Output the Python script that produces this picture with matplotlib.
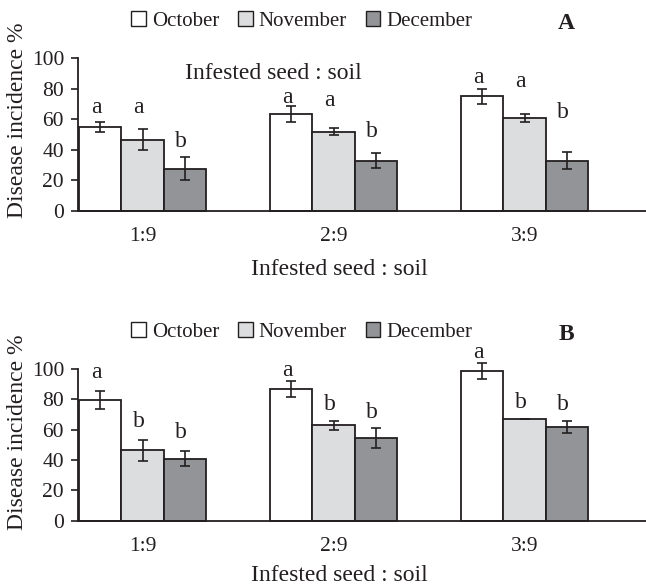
import matplotlib
matplotlib.use("Agg")
import matplotlib.pyplot as plt
from matplotlib.patches import Patch
from matplotlib.transforms import ScaledTranslation, blended_transform_factory
import numpy as np

plt.rcParams['font.family'] = ['Liberation Serif', 'DejaVu Serif']

categories = ["1:9", "2:9", "3:9"]
months = ["October", "November", "December"]

# Panel A
a_vals = {"October": [55, 63.5, 75], "November": [46.7, 52, 60.7], "December": [27.7, 33, 33]}
a_errs = {"October": [3, 5.5, 5], "November": [7, 2.5, 2.5], "December": [7.5, 5, 5.5]}
a_letters = {"October": ["a", "a", "a"], "November": ["a", "a", "a"], "December": ["b", "b", "b"]}
a_letter_y = {"October": [64.2, 70.9, 83.6], "November": [64.2, 68.8, 81.4], "December": [42.1, 48.7, 60.7]}

# Panel B
b_vals = {"October": [79.6, 86.8, 98.7], "November": [46.4, 63, 67.3], "December": [41, 54.7, 62]}
b_errs = {"October": [6, 5, 5], "November": [7, 3, 0], "December": [5, 6.5, 4]}
b_letters = {"October": ["a", "a", "a"], "November": ["b", "b", "b"], "December": ["b", "b", "b"]}
b_letter_y = {"October": [93.9, 95.4, 107], "November": [62, 73, 74.1], "December": [54.3, 67.5, 73]}

colors = {"October": "#ffffff", "November": "#dcddde", "December": "#929497"}
ink = "#231f20"

W, H = 646, 587
fig = plt.figure(figsize=(W / 100, H / 100), dpi=100)

def px_rect(left, right, top, bottom):
    return [left / W, 1 - bottom / H, (right - left) / W, (bottom - top) / H]

axA = fig.add_axes(px_rect(78, 646, 58.3, 211))
axB = fig.add_axes(px_rect(78, 646, 369, 520.7))

width = 0.2225
x = np.arange(len(categories))

def draw(ax, vals, errs, letters, letter_y, panel, xlabel_y, ylabel_y):
    for j, m in enumerate(months):
        pos = x + (j - 1) * width
        ax.bar(pos, vals[m], width, color=colors[m], edgecolor=ink, linewidth=1.3,
               zorder=2, clip_on=False)
        ax.errorbar(pos, vals[m], yerr=errs[m], fmt='none', ecolor=ink, elinewidth=1.2,
                    capsize=3.5, capthick=1.2, zorder=3, clip_on=False)
        for k in range(len(categories)):
            ax.text(pos[k] - 0.02, letter_y[m][k], letters[m][k], ha='center', va='baseline',
                    fontsize=17, color=ink)
    ax.set_xlim(-0.338, 2.636)
    ax.set_ylim(0, 100)
    ax.set_yticks([0, 20, 40, 60, 80, 100])
    ax.set_xticks(x)
    ax.set_xticklabels(categories)
    for lab in ax.get_xticklabels():
        lab.set_transform(lab.get_transform() + ScaledTranslation(0.30, 0, fig.dpi_scale_trans))
    ax.tick_params(axis='x', length=0, pad=11.5, labelsize=15.5, colors=ink)
    ax.tick_params(axis='y', direction='out', length=5, width=1.2, pad=5, labelsize=15.5,
                   colors=ink)
    for s in ['top', 'right']:
        ax.spines[s].set_visible(False)
    for s in ['left', 'bottom']:
        ax.spines[s].set_color(ink)
        ax.spines[s].set_linewidth(1.3)
    ax.set_ylabel("Disease incidence %", fontsize=17, color=ink)
    ax.yaxis.label.set_va('center')
    ax.yaxis.set_label_coords(-0.1065, ylabel_y)
    ax.set_xlabel("Infested seed : soil", fontsize=17, color=ink)
    ax.xaxis.set_label_coords((339 - 78) / 568, xlabel_y)
    ax.text((566 - 78) / 568, 1.23, panel, transform=ax.transAxes, fontsize=17,
            fontweight='bold', ha='center', va='center', color=ink)
    handles = [Patch(facecolor=colors[m], edgecolor=ink, linewidth=1.0) for m in months]
    ax.legend(handles, months, loc='center', bbox_to_anchor=(0.394, 1.245), ncol=3,
              frameon=False, fontsize=15, handlelength=0.7, handleheight=0.7,
              handletextpad=0.3, columnspacing=0.9, borderaxespad=0, labelcolor=ink)

draw(axA, a_vals, a_errs, a_letters, a_letter_y, "A", -0.312, 0.596)
draw(axB, b_vals, b_errs, b_letters, b_letter_y, "B", -0.295, 0.585)

tr = blended_transform_factory(axA.transAxes, axA.transData)
axA.text((273 - 78) / 568, 90, "Infested seed : soil", transform=tr,
         fontsize=17, ha='center', va='center', color=ink)

fig.savefig("out.png", dpi=100)
